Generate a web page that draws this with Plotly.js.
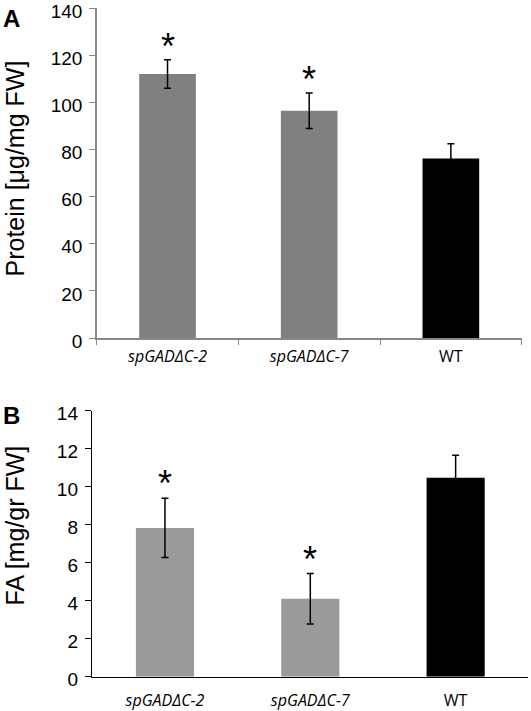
<!DOCTYPE html>
<html>
<head>
<meta charset="utf-8">
<script src="https://cdn.plot.ly/plotly-3.0.1.min.js"></script>
<style>html,body{margin:0;padding:0;background:#fff;}#chart{width:531px;height:711px;}</style>
</head>
<body>
<div id="chart"></div>
<script>
// Data
const categories = ["spGADΔC-2", "spGADΔC-7", "WT"];
const tickLabels = ["<i>spGADΔC-2</i>", "<i>spGADΔC-7</i>", "WT"];
const proteinValues = [112, 96.4, 76.1];
const proteinErrors = [6, 7.5, 6.3];
const proteinSig = ["*", "*", ""];
const faValues = [7.83, 4.1, 10.47];
const faErrors = [1.56, 1.33, 1.18];
const faSig = ["*", "*", ""];
const titleA = "Protein [μg/mg FW]";
const titleB = "FA [mg/gr FW]";
const colorsA = ["#808080", "#808080", "#000000"];
const colorsB = ["#9a9a9a", "#9a9a9a", "#000000"];

const W = 531, H = 711;
const fx = p => p / W;
const fy = p => 1 - p / H;

const traceA = {
  type: "bar", x: categories, y: proteinValues, xaxis: "x", yaxis: "y",
  width: 0.4,
  marker: {color: colorsA},
  error_y: {type: "data", array: proteinErrors, visible: true, color: "#000", thickness: 1.5, width: 3.5},
  hoverinfo: "none"
};
const traceB = {
  type: "bar", x: categories, y: faValues, xaxis: "x2", yaxis: "y2",
  width: 0.4,
  marker: {color: colorsB},
  error_y: {type: "data", array: faErrors, visible: true, color: "#000", thickness: 1.5, width: 3.5},
  hoverinfo: "none"
};

const starFont = {family: "Liberation Sans, Arial", size: 36, color: "#000"};
const annotations = [];
categories.forEach((c, i) => {
  if (proteinSig[i]) annotations.push({xref: "x", yref: "y", x: c, y: proteinValues[i] + proteinErrors[i],
    text: proteinSig[i], showarrow: false, yanchor: "bottom", yshift: -9, font: starFont});
  if (faSig[i]) annotations.push({xref: "x2", yref: "y2", x: c, y: faValues[i] + faErrors[i],
    text: faSig[i], showarrow: false, yanchor: "bottom", yshift: -8, font: starFont});
});
const letterFont = {family: "Liberation Sans, Arial", size: 24, color: "#000"};
annotations.push({xref: "paper", yref: "paper", x: fx(1), y: fy(3), xanchor: "left", yanchor: "top",
  text: "<b>A</b>", showarrow: false, font: letterFont});
annotations.push({xref: "paper", yref: "paper", x: fx(1), y: fy(400), xanchor: "left", yanchor: "top",
  text: "<b>B</b>", showarrow: false, font: letterFont});
const titleFont = {family: "Liberation Sans, Arial", size: 25, color: "#000"};
annotations.push({xref: "paper", yref: "paper", x: fx(14), y: fy(168.5), xanchor: "center", yanchor: "middle",
  text: titleA, textangle: -90, showarrow: false, font: titleFont});
annotations.push({xref: "paper", yref: "paper", x: fx(14), y: fy(525.5), xanchor: "center", yanchor: "middle",
  text: titleB, textangle: -90, showarrow: false, font: titleFont});

const tickFont = {family: "Liberation Sans, Arial", size: 19, color: "#000"};
const xTickFont = {family: "Open Sans, Liberation Sans", size: 16, color: "#000"};

const layout = {
  width: W, height: H,
  margin: {l: 0, r: 0, t: 0, b: 0},
  paper_bgcolor: "#fff", plot_bgcolor: "#fff",
  showlegend: false,
  xaxis: {
    domain: [fx(96.7), fx(521.7)], anchor: "y",
    type: "category", range: [-0.5, 2.5],
    tickmode: "array", tickvals: categories, ticktext: tickLabels,
    tickson: "boundaries", ticks: "outside", ticklen: 5, tickcolor: "#888", tickwidth: 1,
    showline: true, linecolor: "#888", linewidth: 1.5, showgrid: false, zeroline: false,
    tickfont: xTickFont, ticklabelstandoff: 3, fixedrange: true
  },
  yaxis: {
    domain: [fy(338), fy(8)], anchor: "x",
    range: [0, 140], dtick: 20, tick0: 0,
    ticks: "outside", ticklen: 6, tickcolor: "#888", tickwidth: 1,
    showline: true, linecolor: "#888", linewidth: 1.5, showgrid: false, zeroline: false,
    tickfont: tickFont, ticklabeloverflow: "allow", ticklabelstandoff: 3, ticklabelshift: 3,
    fixedrange: true
  },
  xaxis2: {
    domain: [fx(92.3), fx(528.3)], anchor: "y2",
    type: "category", range: [-0.5, 2.5],
    tickmode: "array", tickvals: categories, ticktext: tickLabels,
    ticks: "", showline: true, linecolor: "#000", linewidth: 1.5, showgrid: false, zeroline: false,
    tickfont: xTickFont, ticklabelstandoff: 9, fixedrange: true
  },
  yaxis2: {
    domain: [fy(676.7), fy(410.7)], anchor: "x2",
    range: [0, 14], dtick: 2, tick0: 0,
    ticks: "outside", ticklen: 6, tickcolor: "#000", tickwidth: 1,
    showline: true, linecolor: "#000", linewidth: 1.5, showgrid: false, zeroline: false,
    tickfont: tickFont, ticklabeloverflow: "allow", ticklabelstandoff: 3, ticklabelshift: 3,
    fixedrange: true
  },
  annotations: annotations
};

Plotly.newPlot("chart", [traceA, traceB], layout, {displayModeBar: false, staticPlot: true});
</script>
</body>
</html>
